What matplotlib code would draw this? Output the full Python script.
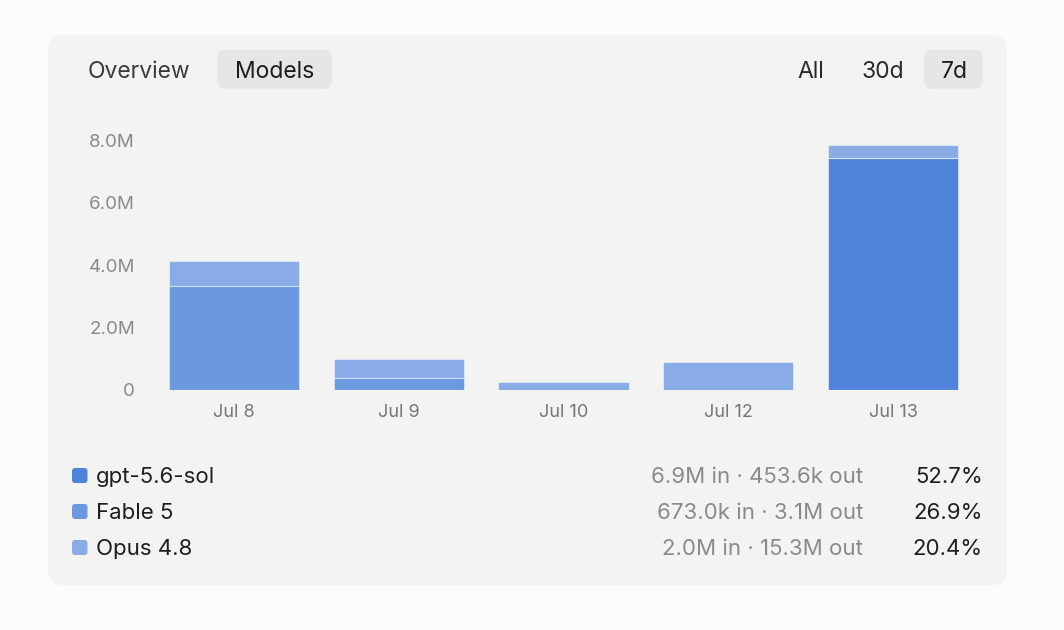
import matplotlib
matplotlib.use('Agg')
import matplotlib.pyplot as plt
from matplotlib.patches import FancyBboxPatch
from matplotlib.ticker import FuncFormatter

plt.rcParams['font.family'] = ['Inter', 'DejaVu Sans']

# --- data (millions of tokens per day) ---
days = ['Jul 8', 'Jul 9', 'Jul 10', 'Jul 12', 'Jul 13']
gpt = [0, 0, 0, 0, 7.45]
fable = [3.33, 0.39, 0, 0, 0]
opus = [0.81, 0.60, 0.26, 0.90, 0.41]

models = ['gpt-5.6-sol', 'Fable 5', 'Opus 4.8']
usage = ['6.9M in \u00b7 453.6k out', '673.0k in \u00b7 3.1M out', '2.0M in \u00b7 15.3M out']
shares = ['52.7%', '26.9%', '20.4%']
cols = ['#4F84DA', '#6B98DE', '#89ACE6']

W, H = 1064, 630
fig = plt.figure(figsize=(W / 100, H / 100), dpi=100)
fig.patch.set_facecolor('#FBFBFA')

# background layer in pixel coordinates
bg = fig.add_axes([0, 0, 1, 1], zorder=0)
bg.set_xlim(0, W)
bg.set_ylim(H, 0)
bg.axis('off')

def rbox(x0, y0, x1, y1, r, color):
    bg.add_patch(FancyBboxPatch((x0, y0), x1 - x0, y1 - y0,
                                boxstyle='round,pad=0,rounding_size=%d' % r,
                                facecolor=color, edgecolor='none'))

rbox(48, 35, 1007, 585, 15, '#F3F3F2')
rbox(217, 50, 332, 89, 8, '#E6E6E5')
rbox(924, 50, 983, 89, 8, '#E6E6E5')

hy = 71.5
bg.text(88, hy, 'Overview', fontsize=16.5, color='#3C3C3C', va='center')
bg.text(274.5, hy, 'Models', fontsize=16.5, color='#1C1C1C', va='center', ha='center')
bg.text(811, hy, 'All', fontsize=16.5, color='#2A2A2A', va='center', ha='center')
bg.text(882.5, hy, '30d', fontsize=16.5, color='#2A2A2A', va='center', ha='center')
bg.text(954, hy, '7d', fontsize=16.5, color='#1C1C1C', va='center', ha='center')

# legend rows
for i, (m, u, s, c) in enumerate(zip(models, usage, shares, cols)):
    y = 476 + i * 36
    rbox(72, y - 8, 87.5, y + 7, 3, c)
    bg.text(96, y + 1, m, fontsize=16, color='#1E1E1E', va='center')
    bg.text(863, y + 1, u, fontsize=16, color='#8A8A8A', va='center', ha='right')
    bg.text(983, y + 1, s, fontsize=16, color='#1E1E1E', va='center', ha='right')

# chart
ax = fig.add_axes([151.6 / W, (H - 390) / H, 823.8 / W, 8 * 31.2 / H], zorder=1)
ax.patch.set_alpha(0)
x = range(len(days))
bw = 0.79
edge = (1, 1, 1, 0.45)
ax.bar(x, gpt, bw, color=cols[0], edgecolor=edge, linewidth=0.8)
ax.bar(x, fable, bw, bottom=gpt, color=cols[1], edgecolor=edge, linewidth=0.8)
base = [a + b for a, b in zip(gpt, fable)]
ax.bar(x, opus, bw, bottom=base, color=cols[2], edgecolor=edge, linewidth=0.8)

ax.set_xlim(-0.5, len(days) - 0.5)
ax.set_ylim(0, 8)
ax.set_yticks([0, 2, 4, 6, 8])
ax.yaxis.set_major_formatter(FuncFormatter(lambda v, p: '0' if v == 0 else '%.1fM' % v))
ax.set_xticks(list(x))
ax.set_xticklabels(days)
for s in ax.spines.values():
    s.set_visible(False)
ax.tick_params(axis='y', length=0, pad=12, labelsize=13.5, labelcolor='#8A8A8A')
ax.tick_params(axis='x', length=0, pad=10, labelsize=13, labelcolor='#777777')

fig.savefig('out.png', dpi=100, facecolor=fig.get_facecolor())
